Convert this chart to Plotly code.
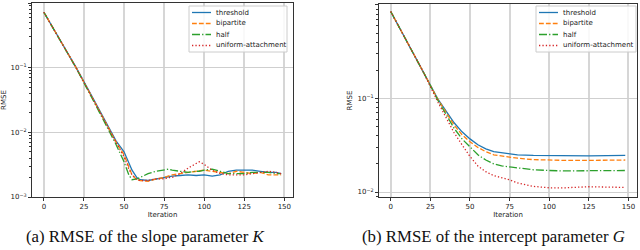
import plotly.graph_objects as go

# ---------------- data: panel (a) slope parameter K ----------------
iters_a = [0, 10, 20, 30, 40, 45, 50, 53, 55, 58, 60, 65, 70, 75, 78, 80, 85, 90, 95, 97,
           100, 105, 110, 115, 120, 125, 130, 135, 140, 145, 148]
threshold_a = [0.72, 0.275, 0.102, 0.036, 0.0122, 0.0074, 0.0050, 0.0034, 0.0026, 0.0020, 0.00185,
               0.0018, 0.0019, 0.0020, 0.00205, 0.0021, 0.00215, 0.0022, 0.00215, 0.00215,
               0.0022, 0.0021, 0.0022, 0.0025, 0.0026, 0.0026, 0.0026, 0.0025, 0.0024, 0.0024, 0.0023]
bipartite_a = [0.72, 0.275, 0.101, 0.035, 0.0118, 0.0071, 0.0045, 0.0029, 0.0022, 0.00185, 0.0018,
               0.00175, 0.0019, 0.0020, 0.0021, 0.0022, 0.0023, 0.0024, 0.0025, 0.0026,
               0.0026, 0.0025, 0.0024, 0.0023, 0.0025, 0.0024, 0.0023, 0.0024, 0.0022, 0.0022, 0.0022]
half_a = [0.72, 0.272, 0.100, 0.034, 0.0112, 0.0065, 0.0035, 0.0022, 0.00185, 0.0019, 0.0020,
          0.0023, 0.0025, 0.0026, 0.0027, 0.0026, 0.0025, 0.0024, 0.0025, 0.0025,
          0.0026, 0.0027, 0.0025, 0.0023, 0.0023, 0.0023, 0.0024, 0.0024, 0.0024, 0.0023, 0.0023]
uniform_a = [0.72, 0.274, 0.101, 0.035, 0.0117, 0.0070, 0.0042, 0.0027, 0.0022, 0.00185, 0.0018,
             0.0018, 0.0019, 0.0019, 0.0020, 0.0020, 0.0023, 0.0028, 0.0033, 0.0035,
             0.0032, 0.0026, 0.0023, 0.0022, 0.0022, 0.0022, 0.0023, 0.0024, 0.0025, 0.0024, 0.0023]

# ---------------- data: panel (b) intercept parameter G ----------------
iters_b = [0, 10, 20, 30, 35, 40, 45, 50, 55, 60, 65, 70, 75, 80, 90, 100, 110, 125, 148]
threshold_b = [0.85, 0.42, 0.20, 0.097, 0.072, 0.055, 0.044, 0.037, 0.032, 0.029, 0.027, 0.0262,
               0.0255, 0.025, 0.0246, 0.0244, 0.0243, 0.0243, 0.0246]
bipartite_b = [0.85, 0.42, 0.20, 0.096, 0.070, 0.052, 0.041, 0.0345, 0.030, 0.027, 0.025, 0.0243,
               0.0237, 0.023, 0.0222, 0.0219, 0.0218, 0.0218, 0.0220]
half_b = [0.85, 0.42, 0.20, 0.094, 0.067, 0.048, 0.037, 0.0305, 0.025, 0.022, 0.020, 0.019,
          0.0185, 0.018, 0.0173, 0.0170, 0.0168, 0.0169, 0.0170]
uniform_b = [0.85, 0.42, 0.20, 0.090, 0.062, 0.043, 0.032, 0.024, 0.019, 0.0165, 0.015, 0.0142,
             0.0135, 0.0125, 0.0115, 0.0111, 0.0111, 0.0114, 0.0112]

names = ["threshold", "bipartite", "half", "uniform-attachment"]
colors = ["#1f77b4", "#ff7f0e", "#2ca02c", "#d62728"]
dashes = ["solid", "4.8px,2.1px", "8px,2.1px,1.3px,2.1px", "1.3px,2.1px"]

x_ticks = [0, 25, 50, 75, 100, 125, 150]
y_ticks_a = [1e-3, 1e-2, 1e-1, 1]
y_text_a = ["10<sup>−3</sup>", "10<sup>−2</sup>", "10<sup>−1</sup>", "10<sup>0</sup>"]
y_ticks_b = [1e-2, 1e-1, 1]
y_text_b = ["10<sup>−2</sup>", "10<sup>−1</sup>", "10<sup>0</sup>"]

W, H = 640, 250


def px(x):
    return x / W


def py(y):
    return 1 - y / H


fig = go.Figure()
series_a = [threshold_a, bipartite_a, half_a, uniform_a]
series_b = [threshold_b, bipartite_b, half_b, uniform_b]
for i in range(4):
    fig.add_trace(go.Scatter(x=iters_a, y=series_a[i], name=names[i], mode="lines",
                             line=dict(color=colors[i], dash=dashes[i], width=1.3),
                             xaxis="x", yaxis="y", showlegend=False))
for i in range(4):
    fig.add_trace(go.Scatter(x=iters_b, y=series_b[i], name=names[i], mode="lines",
                             line=dict(color=colors[i], dash=dashes[i], width=1.3),
                             xaxis="x2", yaxis="y2", showlegend=False))

minor_vals = [m * 10 ** e for e in (-3, -2, -1) for m in range(2, 10)]

tickfont = dict(family="DejaVu Sans", size=7, color="#222")
common_x = dict(range=[-7.4, 155.4], tickvals=x_ticks, ticks="outside", ticklen=3,
                tickcolor="#333", showline=True, linecolor="#333", linewidth=1, mirror=True,
                showgrid=True, gridcolor="#d6d6d6", gridwidth=1.5, zeroline=False,
                tickfont=tickfont, automargin=False,
                title=dict(text="Iteration", font=dict(family="DejaVu Sans", size=7, color="#222"),
                           standoff=0))
common_y = dict(type="log", ticks="outside", ticklen=3, tickcolor="#333", showline=True,
                linecolor="#333", linewidth=1, mirror=True, showgrid=True, gridcolor="#cfcfcf",
                gridwidth=1, zeroline=False, tickfont=tickfont, automargin=False,
                title=dict(text="RMSE", font=dict(family="DejaVu Sans", size=7, color="#222"),
                           standoff=4))

# manual compact legends (matplotlib-like)
shapes = []
annotations = []
for (bx0, bx1) in [(189, 287), (536, 636)]:
    shapes.append(dict(type="rect", xref="paper", yref="paper",
                       x0=px(bx0), x1=px(bx1), y0=py(52), y1=py(6),
                       line=dict(color="#cccccc", width=1), fillcolor="rgba(255,255,255,0.85)",
                       layer="above"))
    for i in range(4):
        yy = 12.5 + 11 * i
        shapes.append(dict(type="line", xref="paper", yref="paper",
                           x0=px(bx0 + 3), x1=px(bx0 + 22), y0=py(yy), y1=py(yy),
                           line=dict(color=colors[i], dash=dashes[i], width=1.3), layer="above"))
        annotations.append(dict(text=names[i], x=px(bx0 + 25), y=py(yy), xref="paper",
                                yref="paper", showarrow=False, xanchor="left", yanchor="middle",
                                font=dict(family="DejaVu Sans", size=7, color="#222")))

annotations += [
    dict(text="(a) RMSE of the slope parameter <i>K</i>", x=px(145), y=py(236),
         xref="paper", yref="paper", showarrow=False, xanchor="center", yanchor="middle",
         font=dict(family="Liberation Serif", size=16.8, color="#111")),
    dict(text="(b) RMSE of the intercept parameter <i>G</i>", x=px(493), y=py(236),
         xref="paper", yref="paper", showarrow=False, xanchor="center", yanchor="middle",
         font=dict(family="Liberation Serif", size=16.8, color="#111")),
]

fig.update_layout(
    width=W, height=H, margin=dict(l=0, r=0, t=0, b=0, autoexpand=False),
    paper_bgcolor="white", plot_bgcolor="white",
    xaxis=dict(domain=[px(32), px(293)], anchor="y", **common_x),
    yaxis=dict(domain=[py(197), py(3)], anchor="x", range=[-3, 0.0],
               tickvals=y_ticks_a, ticktext=y_text_a,
               minor=dict(tickmode="array", tickvals=minor_vals, ticks="outside", ticklen=2,
                          tickcolor="#333", showgrid=False), **common_y),
    xaxis2=dict(domain=[px(379), px(637)], anchor="y2", **common_x),
    yaxis2=dict(domain=[py(197), py(4)], anchor="x2", range=[-2.053, 0.01],
                tickvals=y_ticks_b, ticktext=y_text_b,
                minor=dict(tickmode="array", tickvals=minor_vals, ticks="outside", ticklen=2,
                           tickcolor="#333", showgrid=False), **common_y),
    showlegend=False,
    shapes=shapes,
    annotations=annotations,
)

fig.write_html("out.html", config={"displayModeBar": False},
               post_script="document.body.style.margin='0px';"
                           "document.body.style.overflow='hidden';")
